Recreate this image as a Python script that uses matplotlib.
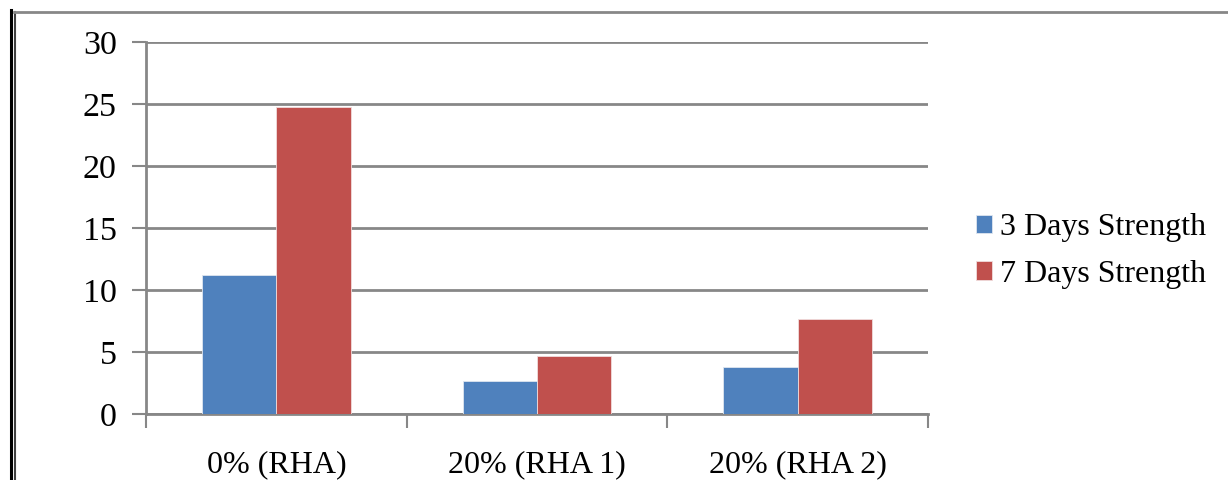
import matplotlib.pyplot as plt
from matplotlib.lines import Line2D
import numpy as np

categories = ['0% (RHA)', '20% (RHA 1)', '20% (RHA 2)']
series_names = ['3 Days Strength', '7 Days Strength']
strength_3d = [11.2, 2.7, 3.8]
strength_7d = [24.75, 4.7, 7.7]
y_ticks = [0, 5, 10, 15, 20, 25, 30]

BLUE = '#4F81BD'
RED = '#C0504D'
GRID = '#878787'

plt.rcParams['font.family'] = ['Liberation Serif', 'DejaVu Serif']

W, H = 1228, 480
fig = plt.figure(figsize=(W / 100, H / 100), dpi=100)
fig.patch.set_facecolor('white')

# plot area in pixel coords
x0, x1, ytop, ybot = 146, 928, 42, 414
ax = fig.add_axes([x0 / W, 1 - ybot / H, (x1 - x0) / W, (ybot - ytop) / H])

n = len(categories)
centers = np.arange(n) + 0.5
bw = 1 / 3.5
ax.bar(centers - bw / 2, strength_3d, bw, color=BLUE, edgecolor='#dfe6f0',
       linewidth=0.6, label=series_names[0], zorder=3)
ax.bar(centers + bw / 2, strength_7d, bw, color=RED, edgecolor='#f0dcdc',
       linewidth=0.6, label=series_names[1], zorder=3)

ax.set_xlim(0, n)
ax.set_ylim(0, 30)
ax.set_yticks(y_ticks)
ax.set_yticklabels([str(v) for v in y_ticks], fontsize=24.5)
ax.yaxis.grid(True, color=GRID, linewidth=2, zorder=0)
ax.set_axisbelow(True)

ax.set_xticks(np.arange(n + 1))
ax.set_xticklabels([])
ax.set_xticks(centers, minor=True)
ax.set_xticklabels(categories, minor=True, fontsize=23)
ax.tick_params(axis='x', which='minor', length=0, pad=26)
ax.tick_params(axis='x', which='major', length=10, width=1.5, color=GRID)
ax.tick_params(axis='y', length=10, width=1.5, color=GRID, pad=11)

for s in ['top', 'right']:
    ax.spines[s].set_visible(False)
for s in ['left', 'bottom']:
    ax.spines[s].set_color(GRID)
    ax.spines[s].set_linewidth(2)

leg = ax.legend(loc='center left', bbox_to_anchor=(963 / W, 1 - 251 / H),
                bbox_transform=fig.transFigure, frameon=False, fontsize=23,
                handlelength=0.5, handleheight=0.5, handletextpad=0.25,
                labelspacing=0.55, borderaxespad=0)

# outer frame lines
fig.add_artist(Line2D([10.5 / W, 10.5 / W], [0, 1 - 10 / H], color='black',
                      linewidth=2.2, transform=fig.transFigure))
fig.add_artist(Line2D([15 / W, 15 / W], [0, 1 - 12 / H], color='#404040',
                      linewidth=1.5, transform=fig.transFigure))
fig.add_artist(Line2D([14 / W, 1], [1 - 12 / H, 1 - 12 / H], color=GRID,
                      linewidth=2, transform=fig.transFigure))

fig.savefig('out.png', dpi=100, facecolor='white')
